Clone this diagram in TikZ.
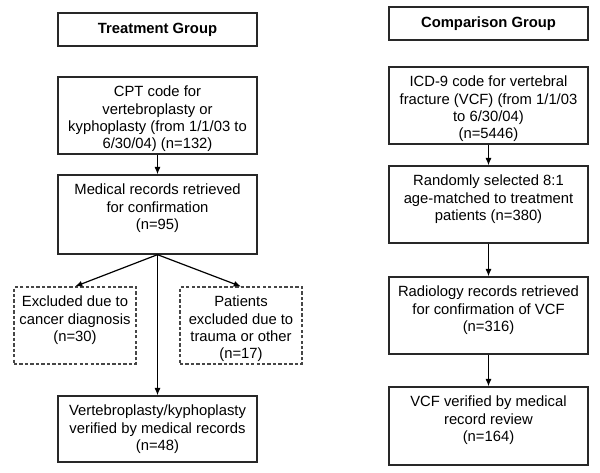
\documentclass[tikz,border=0pt]{standalone}
\usepackage{fontspec}
\setmainfont{Liberation Sans}
\usetikzlibrary{arrows.meta}

% text hangs from the top of a box of fixed size
\newcommand{\boxtext}[3]{\parbox[c][#2][t]{#1}{\centering\rule{0pt}{15pt}#3}}

\tikzset{every picture/.style={line width=0.75pt}}
\tikzset{
  box/.style={draw={rgb,255:red,40;green,40;blue,40}, line width=1pt, rectangle, inner sep=0pt, font=\fontsize{11.1}{12.9}\selectfont},
  smallbox/.style={box, draw={rgb,255:red,70;green,70;blue,70}, line width=0.8pt, dash pattern=on 2.5pt off 1.6pt},
  head/.style={box, minimum width=149.25pt, minimum height=24.75pt, font=\fontsize{11.1}{12.9}\selectfont\bfseries},
  arr/.style={-{Latex[length=5.5pt,width=4.5pt]}, line width=0.9pt}
}

\begin{document}
\begin{tikzpicture}[x=0.75pt,y=0.75pt,yscale=-1,xscale=1]
\useasboundingbox (0,0) rectangle (600,473);

% Treatment Group
\node [head] (tg) at (157.5,29.5) {Treatment Group};
\node [box] (cpt) at (157.5,115.5) {\boxtext{149.25pt}{57.75pt}{CPT code for\\vertebroplasty or\\kyphoplasty (from 1/1/03 to\\6/30/04) (n=132)}};
\node [box] (med) at (157.5,214.5) {\boxtext{149.25pt}{59.25pt}{Medical records retrieved\\for confirmation\\(n=95)}};
\node [smallbox] (canc) at (75,325.5) {\boxtext{91.5pt}{57.75pt}{Excluded due to\\cancer diagnosis\\(n=30)}};
\node [smallbox] (pat) at (241,325.5) {\boxtext{91.5pt}{57.75pt}{Patients\\excluded due to\\trauma or other\\(n=17)}};
\node [box] (vert) at (157.5,429) {\boxtext{149.25pt}{49.5pt}{Vertebroplasty/kyphoplasty\\verified by medical records\\(n=48)}};

% Comparison Group
\node [head] (cg) at (488.5,23.5) {Comparison Group};
\node [box] (icd) at (488.5,105.5) {\boxtext{149.25pt}{57.75pt}{ICD-9 code for vertebral\\fracture (VCF) (from 1/1/03\\to 6/30/04)\\(n=5446)}};
\node [box] (rand) at (488.5,204.5) {\boxtext{149.25pt}{57.75pt}{Randomly selected 8:1\\age-matched to treatment\\patients (n=380)}};
\node [box] (rad) at (488.5,315.5) {\boxtext{149.25pt}{57.75pt}{Radiology records retrieved\\for confirmation of VCF\\(n=316)}};
\node [box] (vcf) at (488.5,426) {\boxtext{149.25pt}{58.5pt}{VCF verified by medical\\record review\\(n=164)}};

% arrows
\draw [arr] (cpt) -- (med);
\draw [arr] (med.south) -- (canc.north);
\draw [arr] (med.south) -- (pat.north);
\draw [arr] (med) -- (vert);
\draw [arr] (icd) -- (rand);
\draw [arr] (rand) -- (rad);
\draw [arr] (rad) -- (vcf);

\end{tikzpicture}
\end{document}
